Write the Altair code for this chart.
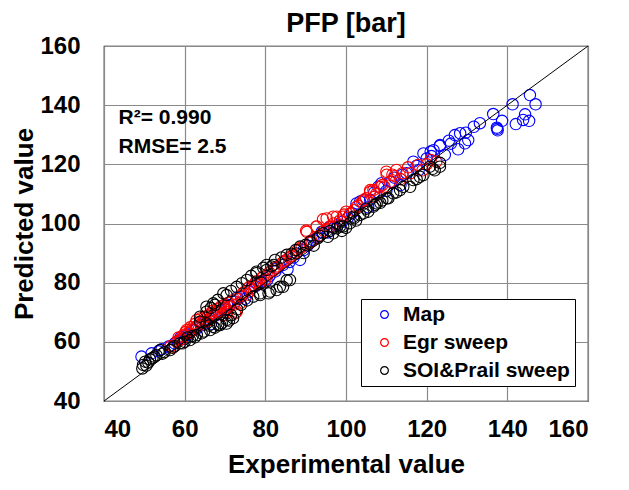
import altair as alt
import pandas as pd

# ---- data ----
map_x = [49.3, 51.8, 53.5, 54.3, 56.0, 57.5, 59.0, 60.0, 61.0, 62.5, 63.0, 64.0, 66.0, 66.5, 67.5, 69.0,
         70.0, 71.0, 72.5, 73.0, 74.0, 75.0, 76.0, 77.5, 78.0, 79.0, 80.5, 81.0, 82.5, 83.0, 84.4, 85.5,
         86.0, 87.0, 88.6, 89.5, 91.9, 94.0, 95.5, 97.0, 99.0, 100.5, 102.6, 103.5, 104.3, 105.5, 106.0,
         108.0, 108.8, 110.0, 111.3, 112.0, 113.5, 115.0, 116.7, 118.0, 119.2, 121.0, 121.2, 121.7, 123.3,
         123.3, 124.5, 127.0, 127.8, 128.3, 129.5, 129.7, 130.3, 131.7, 133.2, 136.5, 137.4, 137.5, 137.6,
         138.7, 141.3, 142.1, 143.9, 144.4, 145.4, 145.6, 147.0,
         58.2, 60.5, 65.0, 68.0, 70.5, 76.5, 85.0, 90.5, 93.0, 96.0, 98.0, 101.5, 107.0, 114.0, 117.5,
         120.0, 125.5, 126.0]
map_y = [55.0, 56.1, 56.8, 57.5, 58.4, 59.5, 61.5, 61.0, 62.5, 64.0, 64.5, 65.5, 67.5, 66.0, 68.8, 70.5,
         71.0, 72.0, 73.5, 75.0, 75.2, 74.5, 77.0, 78.8, 79.5, 80.5, 81.0, 82.2, 83.8, 85.0, 86.0, 84.5,
         87.0, 88.5, 87.7, 91.0, 94.4, 97.2, 97.0, 98.5, 100.5, 102.0, 106.8, 107.4, 107.9, 105.5, 108.0,
         112.4, 113.6, 111.0, 114.1, 115.5, 113.0, 117.0, 120.9, 118.0, 123.7, 124.3, 122.8, 124.8, 126.2,
         126.5, 123.2, 129.9, 125.1, 130.5, 127.1, 130.7, 128.2, 132.7, 133.9, 137.0, 132.4, 132.0, 131.5,
         134.7, 140.3, 133.6, 135.0, 136.9, 134.7, 143.4, 140.3,
         60.2, 62.2, 66.8, 70.0, 72.5, 78.2, 87.5, 92.5, 95.5, 98.8, 99.5, 103.5, 110.5, 116.5, 119.5,
         122.0, 128.0, 127.0]

egr_x = [56.5, 57.2, 58.0, 58.5, 59.5, 60.0, 60.5, 61.0, 61.5, 62.0, 62.5, 63.0, 63.5, 64.0, 64.5, 65.0,
         65.5, 66.3, 66.5, 67.0, 67.5, 68.0, 68.5, 69.0, 69.5, 70.0, 70.5, 71.2, 72.5, 72.9, 73.7, 73.0,
         74.0, 75.0, 75.5, 76.0, 77.0, 78.0, 78.5, 79.5, 80.0, 81.0, 82.0, 83.0, 84.0, 85.0, 86.0, 87.0,
         88.0, 89.0, 90.1, 90.3, 91.0, 92.7, 92.7, 93.5, 94.3, 95.2, 96.0, 96.8, 97.7, 98.5, 99.3, 100.0,
         101.0, 102.0, 103.0, 104.0, 105.0, 106.0, 106.0, 106.8, 107.5, 108.4, 109.0, 110.0, 110.1, 110.9,
         112.0, 112.5, 113.5, 115.4, 116.0, 117.9, 119.0, 120.0, 122.4,
         58.8, 59.2, 60.2, 61.8, 62.8, 63.7, 64.8, 65.8, 66.8, 67.8, 68.8, 69.8, 70.8, 71.8, 72.2, 74.5,
         76.5, 77.5, 79.0, 80.5, 82.5, 84.5, 86.5, 88.5, 91.5, 94.5, 97.0, 99.5, 102.5, 104.5, 107.0,
         109.5, 111.5, 114.0, 121.0]
egr_y = [58.5, 58.3, 60.0, 61.5, 62.0, 62.5, 64.0, 63.0, 65.0, 64.0, 66.0, 67.4, 65.5, 68.0, 66.5, 68.5,
         67.0, 69.6, 68.0, 70.5, 69.0, 71.0, 70.0, 72.0, 69.0, 71.5, 70.0, 71.9, 69.6, 70.2, 73.0, 74.5,
         75.5, 77.0, 76.0, 78.5, 79.0, 80.5, 79.5, 82.0, 81.0, 83.5, 84.0, 85.5, 86.5, 87.5, 88.5, 89.5,
         91.0, 92.0, 97.6, 97.2, 93.5, 99.0, 98.9, 96.0, 101.4, 101.7, 99.0, 102.3, 102.3, 101.0, 102.3, 104.0,
         103.4, 104.5, 106.0, 107.5, 108.5, 110.7, 111.3, 111.3, 110.0, 112.4, 113.0, 117.5, 116.5, 114.1,
         116.0, 118.1, 115.0, 119.0, 117.0, 119.8, 118.0, 120.0, 120.9,
         60.5, 61.0, 63.3, 64.5, 65.0, 66.5, 67.5, 68.8, 69.5, 70.2, 71.5, 72.5, 73.2, 74.0, 72.5, 76.5,
         78.0, 80.0, 81.5, 82.5, 85.0, 87.0, 89.0, 91.5, 94.0, 97.5, 100.0, 103.0, 105.5, 108.0, 109.0,
         112.5, 116.5, 117.0, 121.5]

soi_x = [49.5, 49.7, 50.2, 50.5, 51.0, 51.4, 52.0, 53.0, 53.9, 55.0, 56.4, 57.5, 58.8, 60.0, 61.3, 62.5,
         63.8, 63.8, 64.2, 65.4, 65.4, 65.4, 66.3, 67.1, 67.1, 67.5, 68.3, 68.8, 69.6, 70.4, 70.4, 70.4,
         71.5, 72.9, 73.0, 74.0, 75.4, 75.5, 77.0, 77.8, 77.8, 78.7, 78.7, 79.0, 80.3, 80.3, 80.8, 81.2,
         82.0, 82.4, 82.8, 83.6, 84.4, 85.3, 85.3, 86.1, 87.7, 88.6, 89.5, 91.1, 92.0, 93.0, 94.3, 95.5,
         96.8, 97.7, 99.0, 99.3, 100.0, 101.0, 101.8, 102.5, 103.5, 104.3, 105.5, 106.8, 107.2, 107.6,
         108.5, 110.1, 110.5, 111.7, 113.4, 114.2, 115.9, 116.7, 118.3, 119.2, 120.8, 122.0, 123.3, 123.3,
         52.5, 54.5, 57.0, 59.5, 60.7, 62.0, 63.0, 64.8, 66.0, 67.5, 69.2, 71.0, 72.0, 66.5, 68.2, 71.5,
         74.2, 76.5, 79.5, 81.5, 84.0, 86.5, 87.5, 90.0, 93.5, 96.0, 98.5, 102.0, 105.0, 109.0, 112.5,
         117.5, 121.5]
soi_y = [51.0, 52.2, 53.3, 52.0, 53.0, 54.1, 54.5, 55.5, 57.2, 56.5, 57.2, 58.5, 59.5, 60.0, 60.6, 61.5,
         66.8, 68.5, 62.9, 70.2, 71.9, 66.2, 64.0, 65.1, 73.0, 72.5, 65.7, 65.7, 76.4, 67.4, 66.2, 75.8,
         69.0, 78.6, 71.0, 72.5, 80.9, 74.0, 75.3, 83.7, 83.2, 75.8, 76.4, 80.0, 84.3, 86.0, 76.4, 77.0,
         86.0, 87.7, 77.5, 78.6, 78.6, 80.8, 89.4, 80.9, 89.9, 92.2, 90.0, 93.9, 92.5, 95.0, 96.7, 95.5,
         96.7, 98.4, 97.5, 99.0, 98.5, 100.1, 102.3, 101.0, 102.9, 103.4, 104.0, 105.7, 106.3, 106.8,
         107.0, 108.5, 108.5, 110.2, 111.3, 112.4, 112.4, 114.7, 115.8, 116.4, 119.2, 118.0, 119.2, 120.5,
         55.0, 56.0, 58.0, 59.5, 61.5, 62.0, 62.3, 63.5, 65.5, 64.8, 66.3, 67.2, 68.0, 71.5, 74.2, 77.2,
         79.8, 82.3, 85.0, 85.5, 88.5, 89.8, 91.0, 92.8, 95.8, 97.5, 99.0, 101.8, 105.0, 107.8, 110.5,
         115.0, 118.5]

series_names = ["Map", "Egr sweep", "SOI&Prail sweep"]
series_colors = ["#0000ff", "#ff0000", "#000000"]
diag = [40, 160]
ticks = [40, 60, 80, 100, 120, 140, 160]
stats_text = ["R\u00b2= 0.990", "RMSE= 2.5"]
stats_x = [43.6, 43.6]
stats_y = [133.5, 124.0]

FONT = "Liberation Sans"

rows = []
for name, xs, ys in zip(series_names, [map_x, egr_x, soi_x], [map_y, egr_y, soi_y]):
    for a, b in zip(xs, ys):
        rows.append({"exp": a, "pred": b, "series": name})
df = pd.DataFrame(rows)

xscale = alt.Scale(domain=[40, 160], nice=False, zero=False)
yscale = alt.Scale(domain=[40, 160], nice=False, zero=False)

xaxis = alt.Axis(values=ticks, title="Experimental value", grid=True, ticks=False, domain=False,
                 labelPadding=16, titlePadding=10)
yaxis = alt.Axis(values=ticks, title="Predicted value", grid=True, ticks=False, domain=False,
                 labelPadding=24, titlePadding=2)

points = alt.Chart(df).mark_point(shape="circle", filled=False, size=130, strokeWidth=1.1, opacity=1).encode(
    x=alt.X("exp:Q", scale=xscale, axis=xaxis),
    y=alt.Y("pred:Q", scale=yscale, axis=yaxis),
    color=alt.Color("series:N", sort=None,
                    scale=alt.Scale(domain=series_names, range=series_colors),
                    legend=alt.Legend(title=None, orient="none", legendX=257, legendY=253,
                                      strokeColor="black", fillColor="white", padding=5,
                                      symbolOffset=8, symbolSize=60, symbolStrokeWidth=1.2,
                                      labelFontSize=21, labelFont=FONT, labelFontWeight="bold",
                                      labelOffset=8, labelLimit=400, rowPadding=6,
                                      symbolType="circle", cornerRadius=0)),
)

line = alt.Chart(pd.DataFrame({"a": diag, "b": diag})).mark_line(color="black", strokeWidth=1).encode(
    x=alt.X("a:Q", scale=xscale),
    y=alt.Y("b:Q", scale=yscale),
)

texts = alt.Chart(pd.DataFrame({"t": stats_text, "x": stats_x, "y": stats_y})).mark_text(
    align="left", baseline="alphabetic", fontSize=21, font=FONT, fontWeight="bold", color="black"
).encode(x=alt.X("x:Q", scale=xscale), y=alt.Y("y:Q", scale=yscale), text="t:N")

chart = alt.layer(points, line, texts).properties(
    width=484, height=355,
    title=alt.Title("PFP [bar]", fontSize=27, font=FONT, fontWeight="bold", color="black", offset=-4),
    autosize=alt.AutoSizeParams(type="none"),
    padding={"left": 104, "top": 46, "right": 41, "bottom": 89},
).configure_view(stroke="black", strokeWidth=1.2).configure_axis(
    labelFont=FONT, labelFontSize=24, labelFontWeight="bold", labelColor="black",
    titleFont=FONT, titleFontSize=26, titleFontWeight="bold", titleColor="black",
    gridColor="#8a8a8a", gridWidth=1.2, gridOpacity=1,
)

chart.save("out.html", embed_options={"renderer": "svg", "actions": False})
